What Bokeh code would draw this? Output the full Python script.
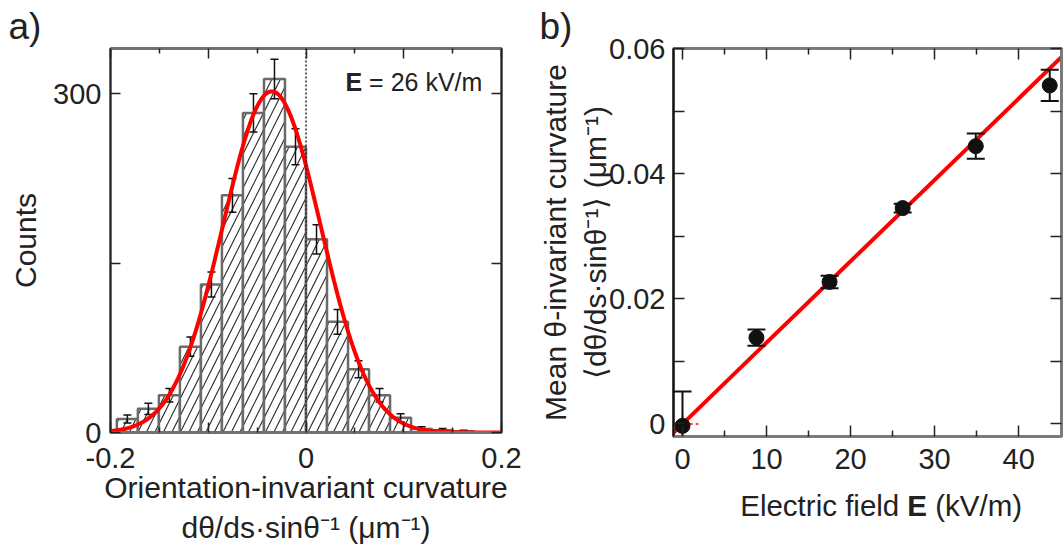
import numpy as np
from bokeh.plotting import figure
from bokeh.models import (Range1d, FixedTicker, LinearAxis, Label, Span, Slope,
                          CustomJSTickFormatter)
from bokeh.core.properties import value
from bokeh.layouts import row, column
from bokeh.embed import file_html
from bokeh.resources import INLINE

FONT = "Liberation Sans"
FS_TICK = "29px"
FS_LAB = "30px"
TXT = "#222222"

# ---------------- Panel a data ----------------
bin_edges = [-0.1935, -0.172, -0.1505, -0.129, -0.1075, -0.086, -0.0645, -0.043,
             -0.0215, 0.0, 0.0215, 0.043, 0.0645, 0.086, 0.1075, 0.129, 0.1505, 0.172]
counts = [12, 21, 33, 76, 131, 210, 283, 313, 253, 171, 98, 56, 33, 13, 3, 2, 1]
count_err = [3.5, 5, 6, 8.5, 11, 15, 17, 17.5, 16, 13, 11, 7.5, 6, 3.5, 2, 1.5, 1]
# Gaussian fit parameters
fit_amp = 302.0
fit_mu = -0.035
fit_sigma = 0.05
a_xticks = [-0.2, -0.1, 0.0, 0.1, 0.2]
a_xminor = [-0.15, -0.05, 0.05, 0.15]
a_yticks = [0, 150, 300]

# ---------------- Panel b data ----------------
field = [0.0, 8.8, 17.5, 26.2, 34.9, 43.7]
mean_curv = [-0.0003, 0.0138, 0.0227, 0.0345, 0.0444, 0.0541]
mean_err = [0.0055, 0.0013, 0.0010, 0.0007, 0.0020, 0.0025]
fit_slope = 0.0013
b_xticks = [0, 10, 20, 30, 40]
b_xminor = [5, 15, 25, 35]
b_yticks = [0.0, 0.02, 0.04, 0.06]
b_yminor = [0.01, 0.03, 0.05]
# red dashed origin cross-hair
cross_x0 = [-2.0, 0.0]
cross_y0 = [0.0, 0.0014]
cross_x1 = [1.9, 0.0]
cross_y1 = [0.0, -0.003]

EMPTY = CustomJSTickFormatter(code="return ''")


def style_axis(ax, ticks, minor, show=True, major_in=10, minor_in=5,
               line_color="#222", line_width=1.5, standoff=10):
    ax.ticker = FixedTicker(ticks=ticks, minor_ticks=minor)
    ax.major_tick_in = major_in
    ax.major_tick_out = 0
    ax.minor_tick_in = minor_in
    ax.minor_tick_out = 0
    ax.major_tick_line_color = "#222"
    ax.minor_tick_line_color = "#222"
    ax.major_tick_line_width = 1.5
    ax.minor_tick_line_width = 1.5
    ax.axis_line_color = line_color
    ax.axis_line_width = line_width
    ax.major_label_text_font = FONT
    ax.major_label_text_color = TXT
    ax.major_label_text_font_size = FS_TICK
    ax.axis_label_text_font = FONT
    ax.axis_label_text_font_size = FS_LAB
    ax.axis_label_text_font_style = "normal"
    ax.axis_label_text_color = TXT
    ax.axis_label_text_line_height = 1.22
    if show:
        ax.major_label_standoff = standoff
    else:
        ax.major_label_standoff = 0
        ax.formatter = EMPTY


def style_title(t, offset):
    t.align = "left"
    t.offset = offset
    t.standoff = 3
    t.text_font = FONT
    t.text_font_size = "37px"
    t.text_font_style = "normal"
    t.text_color = TXT


# ================= Panel a =================
pa = figure(width=530, height=546, x_range=Range1d(-0.2, 0.2), y_range=Range1d(0, 340),
            output_backend="svg", toolbar_location=None, title="a)",
            min_border_left=110, min_border_right=29, min_border_top=48, min_border_bottom=110)
pa.grid.visible = False
pa.outline_line_color = "#606060"
pa.outline_line_width = 2.5
style_title(pa.title, -102)

style_axis(pa.xaxis[0], a_xticks, a_xminor, major_in=10, minor_in=5,
           line_color="#707070", line_width=3, standoff=15)
pa.xaxis[0].major_label_overrides = {-0.1: "", 0.1: "", 0.0: "0", -0.2: "-0.2", 0.2: "0.2"}
pa.xaxis[0].axis_label = "Orientation-invariant curvature\nd\u03b8/ds\u00b7sin\u03b8\u207b\u00b9 (\u03bcm\u207b\u00b9)"
pa.xaxis[0].axis_label_standoff = 0
style_axis(pa.yaxis[0], a_yticks, [], major_in=10, line_color="#222", line_width=1.5, standoff=9)
pa.yaxis[0].major_label_overrides = {150: ""}
pa.yaxis[0].axis_label = "Counts"
pa.yaxis[0].axis_label_standoff = 8
top_a = LinearAxis()
style_axis(top_a, a_xticks, a_xminor, show=False, line_color="#707070", line_width=3)
pa.add_layout(top_a, "above")
right_a = LinearAxis()
style_axis(right_a, a_yticks, [], show=False)
pa.add_layout(right_a, "right")

lefts = bin_edges[:-1]
rights = bin_edges[1:]
centers = [(l + r) / 2 for l, r in zip(lefts, rights)]
pa.quad(left=lefts, right=rights, bottom=0, top=counts,
        fill_color="white", line_color="#6a6a6a", line_width=2.5,
        hatch_pattern="/", hatch_color="#333333", hatch_weight=1.2, hatch_scale=17)

lo = [c - e for c, e in zip(counts, count_err)]
hi = [c + e for c, e in zip(counts, count_err)]
pa.segment(x0=centers, y0=lo, x1=centers, y1=hi, line_color="#111", line_width=1.5)
pa.scatter(x=centers + centers, y=lo + hi, marker="dash", size=8,
           line_color="#111", line_width=1.5)

pa.add_layout(Span(location=0, dimension="height", line_color="#222",
                   line_dash="2 2", line_width=1.5))

gx = np.linspace(-0.2, 0.2, 400)
gy = fit_amp * np.exp(-(gx - fit_mu) ** 2 / (2 * fit_sigma ** 2))
pa.line(gx, gy, line_color="#ff0000", line_width=4)

pa.add_layout(Label(x=0.0404, y=310.5, text="E", text_font=FONT, text_font_size="25px",
                    text_font_style="bold", text_color=TXT, text_baseline="middle"))
pa.add_layout(Label(x=0.0404, y=310.5, x_offset=23.6, text="= 26 kV/m", text_font=FONT,
                    text_font_size="25px", text_color=TXT, text_baseline="middle"))

# ================= Panel b =================
pb = figure(width=533, height=486, x_range=Range1d(-1.07, 45.1), y_range=Range1d(-0.002, 0.06),
            output_backend="svg", toolbar_location=None, title="b)",
            min_border_left=143, min_border_right=2, min_border_top=48, min_border_bottom=50)
pb.grid.visible = False
pb.outline_line_color = "#7a7a7a"
pb.outline_line_width = 3
style_title(pb.title, -134)

style_axis(pb.xaxis[0], b_xticks, b_xminor, major_in=11, minor_in=6,
           line_color="#7a7a7a", line_width=3, standoff=12)
style_axis(pb.yaxis[0], b_yticks, b_yminor, major_in=11, minor_in=11,
           line_color="#111", line_width=2, standoff=8)
pb.yaxis[0].major_label_overrides = {0.0: "0", 0.02: "0.02", 0.04: "0.04", 0.06: "0.06"}
pb.yaxis[0].axis_label = ("Mean \u03b8-invariant curvature\n"
                          "\u27e8d\u03b8/ds\u00b7sin\u03b8\u207b\u00b9\u27e9 (\u03bcm\u207b\u00b9)")
pb.yaxis[0].axis_label_standoff = -6
top_b = LinearAxis()
style_axis(top_b, b_xticks, b_xminor, show=False, major_in=11, minor_in=6,
           line_color="#7a7a7a", line_width=3)
pb.add_layout(top_b, "above")
right_b = LinearAxis()
style_axis(right_b, b_yticks, b_yminor, show=False, major_in=11, minor_in=11,
           line_color="#7a7a7a", line_width=3)
pb.add_layout(right_b, "right")

pb.add_layout(Slope(gradient=fit_slope, y_intercept=0, line_color="#ff0000",
                    line_width=4, level="underlay"))
pb.segment(x0=cross_x0, y0=cross_y0, x1=cross_x1, y1=cross_y1,
           line_color="#ff0000", line_dash="3 3", line_width=1.5)

blo = [m - e for m, e in zip(mean_curv, mean_err)]
bhi = [m + e for m, e in zip(mean_curv, mean_err)]
pb.segment(x0=field, y0=blo, x1=field, y1=bhi, line_color="#111", line_width=2)
pb.scatter(x=field + field, y=blo + bhi, marker="dash", size=18,
           line_color="#111", line_width=2)
pb.scatter(x=field, y=mean_curv, size=15, fill_color="#111", line_color="#111")

# x-axis title of panel b (with bold E) drawn in a strip below, sharing the x range
pbt = figure(width=533, height=60, x_range=pb.x_range, y_range=Range1d(0, 60),
             output_backend="svg", toolbar_location=None,
             x_axis_location=None, y_axis_location=None,
             min_border_left=143, min_border_right=2, min_border_top=0, min_border_bottom=0)
pbt.grid.visible = False
pbt.outline_line_color = None
xl_start = 6.87
XL_FS = "29.5px"
pbt.text(x=[xl_start], y=[41.5], text=["Electric field"], text_font=value(FONT),
         text_font_size=XL_FS, text_color=TXT, text_baseline="middle", text_align="left")
pbt.text(x=[xl_start], y=[41.5], x_offset=167, text=["E"], text_font=value(FONT),
         text_font_style="bold", text_font_size=XL_FS, text_color=TXT,
         text_baseline="middle", text_align="left")
pbt.text(x=[xl_start], y=[41.5], x_offset=195, text=["(kV/m)"], text_font=value(FONT),
         text_font_size=XL_FS, text_color=TXT, text_baseline="middle", text_align="left")

layout = row(pa, column(pb, pbt, spacing=0), spacing=0)
open("out.html", "w").write(file_html(layout, INLINE))
